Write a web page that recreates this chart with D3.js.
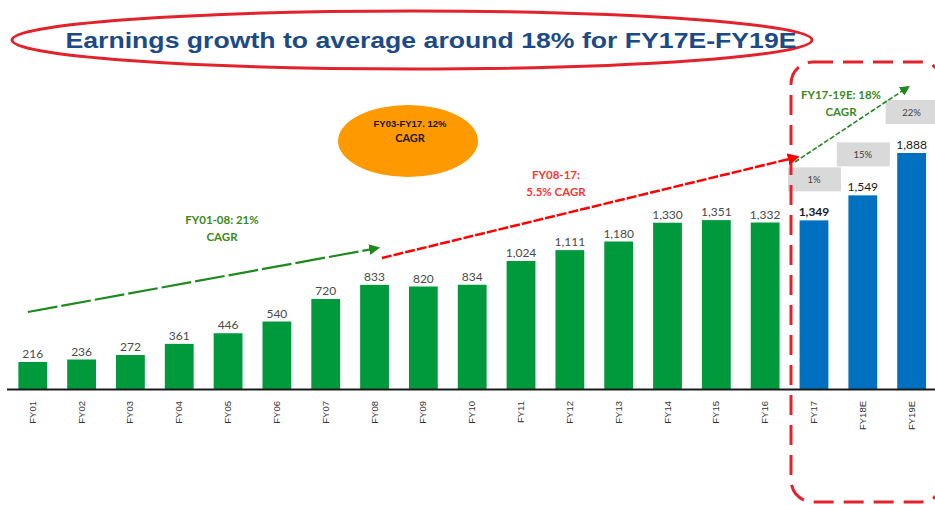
<!DOCTYPE html>
<html>
<head>
<meta charset="utf-8">
<script src="https://cdn.jsdelivr.net/npm/d3@7"></script>
<style>
  html, body { margin: 0; padding: 0; background: #ffffff; }
  svg { display: block; }
</style>
</head>
<body>
<svg id="chart" width="935" height="505"></svg>
<script>
// ---------- DATA ----------
const categories = ["FY01","FY02","FY03","FY04","FY05","FY06","FY07","FY08","FY09","FY10",
                    "FY11","FY12","FY13","FY14","FY15","FY16","FY17","FY18E","FY19E"];
const earnings = [216, 236, 272, 361, 446, 540, 720, 833, 820, 834,
                  1024, 1111, 1180, 1330, 1351, 1332, 1349, 1549, 1888];
const estimateFlags = [0,0,0,0,0,0,0,0,0,0,0,0,0,0,0,0,1,1,1];
const growthCategories = ["FY17","FY18E","FY19E"];
const growthLabels = ["1%","15%","22%"];
const titleText = "Earnings growth to average around 18% for FY17E-FY19E";

// annotation arrows in data coordinates: [category position (index), value]
const arrowGreen1 = [[-0.1, 616], [7.07, 1128]];
const arrowRed = [[7.15, 1048], [15.66, 1856]];
const arrowGreen2 = [[15.61, 1816], [17.93, 2416]];

// ---------- LAYOUT ----------
const svg = d3.select("#chart");
const baseY = 389;
const x = d3.scaleBand().domain(categories).range([8.6, 935.8]).paddingInner(0.41).paddingOuter(0.2);
const y = d3.scaleLinear().domain([0, 2000]).range([baseY, 139]);
const step = x.step();
const xc = i => x(categories[0]) + x.bandwidth() / 2 + step * i;

const defs = svg.append("defs");
function marker(id, color, size) {
  defs.append("marker").attr("id", id).attr("viewBox", "0 0 10 10")
    .attr("refX", 8).attr("refY", 5).attr("markerWidth", size).attr("markerHeight", size)
    .attr("orient", "auto").attr("markerUnits", "userSpaceOnUse")
    .append("path").attr("d", "M0,0 L10,5 L0,10 z").attr("fill", color);
}
marker("ag", "#1e8a1e", 11);
marker("ar", "#ff0000", 12);
marker("ag2", "#1e8a1e", 10);

// Title with ellipse
svg.append("ellipse").attr("cx", 412).attr("cy", 40).attr("rx", 400).attr("ry", 29)
  .attr("fill", "none").attr("stroke", "#e3232b").attr("stroke-width", 3);
svg.append("text").attr("x", 431).attr("y", 48).attr("text-anchor", "middle")
  .attr("font-family", "Liberation Sans, Arial, sans-serif").attr("font-weight", "bold")
  .attr("font-size", 22).attr("fill", "#1c4a86").attr("textLength", 731)
  .attr("lengthAdjust", "spacingAndGlyphs").text(titleText);

// Bars
svg.append("g").selectAll("rect").data(earnings).join("rect")
  .attr("x", (d, i) => x(categories[i]))
  .attr("y", d => y(d))
  .attr("width", x.bandwidth())
  .attr("height", d => baseY - y(d))
  .attr("fill", (d, i) => estimateFlags[i] ? "#0070c0" : "#009a3d");

// Value labels
svg.append("g").selectAll("text").data(earnings).join("text")
  .attr("x", (d, i) => x(categories[i]) + x.bandwidth() / 2)
  .attr("y", d => y(d) - 4)
  .attr("text-anchor", "middle")
  .attr("font-family", "Lato, sans-serif").attr("font-size", 12)
  .attr("font-weight", (d, i) => i === 16 ? "bold" : "normal")
  .attr("fill", (d, i) => estimateFlags[i] ? "#1a1a1a" : "#4a4a4a")
  .text(d => d3.format(",")(d));

// Axis
const axis = svg.append("g").attr("transform", `translate(0,${baseY})`)
  .call(d3.axisBottom(x).tickSize(0).tickPadding(0));
axis.select(".domain").remove();
svg.append("line").attr("x1", 7).attr("x2", 935).attr("y1", baseY + 0.5).attr("y2", baseY + 0.5)
  .attr("stroke", "#1a1a1a").attr("stroke-width", 2);
axis.selectAll("text")
  .attr("font-family", "Liberation Sans, Arial, sans-serif").attr("font-size", 9.5)
  .attr("fill", "#333").attr("text-anchor", "end")
  .attr("transform", "translate(3,12) rotate(-90)")
  .attr("dy", "0").attr("y", 0).attr("x", 0);

// Growth boxes
const gb = svg.append("g").selectAll("g").data(growthLabels).join("g")
  .attr("transform", (d, i) => {
    const c = growthCategories[i];
    const v = earnings[categories.indexOf(c)];
    return `translate(${x(c) + x.bandwidth() / 2},${y(v)})`;
  });
gb.append("rect").attr("x", -26).attr("y", -53).attr("width", 53).attr("height", 24).attr("fill", "#d9d9d9");
gb.append("text").attr("x", 0).attr("y", -37).attr("text-anchor", "middle")
  .attr("font-family", "Lato, sans-serif").attr("font-size", 9.5).attr("fill", "#404040").text(d => d);

// Dashed rounded box (estimate period)
svg.append("rect").attr("x", 791).attr("y", 62).attr("width", 152).attr("height", 440)
  .attr("rx", 22).attr("ry", 22).attr("fill", "none")
  .attr("stroke", "#e3232b").attr("stroke-width", 3).attr("stroke-dasharray", "20,10");

// Arrows
function arrow(pts, color, width, dash, mk) {
  svg.append("line")
    .attr("x1", xc(pts[0][0])).attr("y1", y(pts[0][1]))
    .attr("x2", xc(pts[1][0])).attr("y2", y(pts[1][1]))
    .attr("stroke", color).attr("stroke-width", width).attr("stroke-dasharray", dash)
    .attr("marker-end", `url(#${mk})`);
}
arrow(arrowGreen1, "#1e8a1e", 2.2, "30,4", "ag");
arrow(arrowRed, "#ff0000", 2.5, "10,2", "ar");
arrow(arrowGreen2, "#1e8a1e", 1.6, "5,2", "ag2");

// Orange ellipse annotation
svg.append("ellipse").attr("cx", 408).attr("cy", 141).attr("rx", 70).attr("ry", 36).attr("fill", "#ff9900");
svg.append("text").attr("x", 410).attr("y", 127).attr("text-anchor", "middle")
  .attr("font-family", "Liberation Sans, Arial, sans-serif").attr("font-weight", "bold")
  .attr("font-size", 9.5).attr("fill", "#1a1a1a").text("FY03-FY17. 12%");
svg.append("text").attr("x", 410).attr("y", 142).attr("text-anchor", "middle")
  .attr("font-family", "Lato, sans-serif").attr("font-weight", "bold")
  .attr("font-size", 11).attr("fill", "#1a1a1a").text("CAGR");

// Text annotations
function note(lines, cx, y0, color) {
  lines.forEach((t, k) => svg.append("text").attr("x", cx).attr("y", y0 + k * 17)
    .attr("text-anchor", "middle").attr("font-family", "Lato, sans-serif")
    .attr("font-weight", "bold").attr("font-size", 11.5).attr("fill", color).text(t));
}
note(["FY01-08: 21%", "CAGR"], 222, 224, "#3a8a1c");
note(["FY08-17:", "5.5% CAGR"], 556, 179, "#ff3535");
note(["FY17-19E:  18%", "CAGR"], 841, 99, "#3a8a1c");
</script>
</body>
</html>
